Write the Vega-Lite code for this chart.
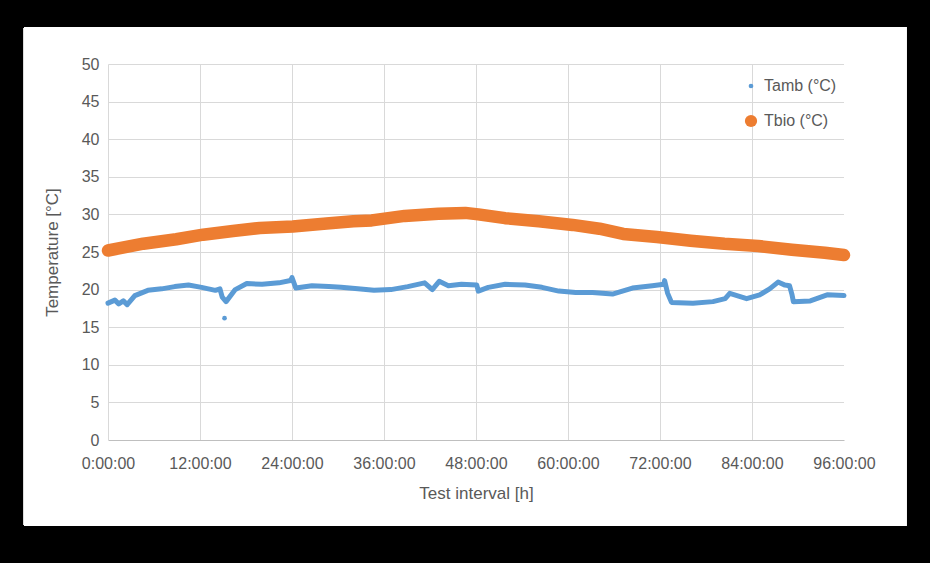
{
  "$schema": "https://vega.github.io/schema/vega-lite/v6.json",
  "width": 736,
  "height": 376,
  "autosize": {"type": "none"},
  "padding": {"left": 108, "top": 64, "right": 86, "bottom": 123},
  "background": "#000000",
  "config": {
    "view": {"fill": "#ffffff", "stroke": null},
    "font": "Liberation Sans",
    "axis": {"labelColor": "#595959", "titleColor": "#595959", "labelFontSize": 16, "titleFontSize": 17, "titleFontWeight": "normal", "gridColor": "#d9d9d9", "gridWidth": 1, "gridOpacity": 1, "labelOverlap": false}
  },
  "datasets": {
    "temps": [
      {"t": 0, "series": "Tamb (°C)", "temp": 18.2, "isolated": 0},
      {"t": 0.9, "series": "Tamb (°C)", "temp": 18.6, "isolated": 0},
      {"t": 1.4, "series": "Tamb (°C)", "temp": 18.1, "isolated": 0},
      {"t": 2.0, "series": "Tamb (°C)", "temp": 18.5, "isolated": 0},
      {"t": 2.5, "series": "Tamb (°C)", "temp": 18.0, "isolated": 0},
      {"t": 3.5, "series": "Tamb (°C)", "temp": 19.2, "isolated": 0},
      {"t": 5.2, "series": "Tamb (°C)", "temp": 19.9, "isolated": 0},
      {"t": 7.0, "series": "Tamb (°C)", "temp": 20.1, "isolated": 0},
      {"t": 8.7, "series": "Tamb (°C)", "temp": 20.4, "isolated": 0},
      {"t": 10.5, "series": "Tamb (°C)", "temp": 20.6, "isolated": 0},
      {"t": 12.2, "series": "Tamb (°C)", "temp": 20.3, "isolated": 0},
      {"t": 14.0, "series": "Tamb (°C)", "temp": 19.9, "isolated": 0},
      {"t": 14.6, "series": "Tamb (°C)", "temp": 20.1, "isolated": 0},
      {"t": 14.9, "series": "Tamb (°C)", "temp": 19.0, "isolated": 0},
      {"t": 15.4, "series": "Tamb (°C)", "temp": 18.4, "isolated": 0},
      {"t": 15.2, "series": "Tamb (°C)", "temp": 16.2, "isolated": 1},
      {"t": 16.6, "series": "Tamb (°C)", "temp": 20.0, "isolated": 0},
      {"t": 18.1, "series": "Tamb (°C)", "temp": 20.8, "isolated": 0},
      {"t": 20.1, "series": "Tamb (°C)", "temp": 20.7, "isolated": 0},
      {"t": 22.3, "series": "Tamb (°C)", "temp": 20.9, "isolated": 0},
      {"t": 23.8, "series": "Tamb (°C)", "temp": 21.2, "isolated": 0},
      {"t": 24.0, "series": "Tamb (°C)", "temp": 21.6, "isolated": 0},
      {"t": 24.5, "series": "Tamb (°C)", "temp": 20.2, "isolated": 0},
      {"t": 26.6, "series": "Tamb (°C)", "temp": 20.5, "isolated": 0},
      {"t": 28.8, "series": "Tamb (°C)", "temp": 20.4, "isolated": 0},
      {"t": 30.4, "series": "Tamb (°C)", "temp": 20.3, "isolated": 0},
      {"t": 32.6, "series": "Tamb (°C)", "temp": 20.1, "isolated": 0},
      {"t": 34.7, "series": "Tamb (°C)", "temp": 19.9, "isolated": 0},
      {"t": 36.9, "series": "Tamb (°C)", "temp": 20.0, "isolated": 0},
      {"t": 39.1, "series": "Tamb (°C)", "temp": 20.4, "isolated": 0},
      {"t": 41.3, "series": "Tamb (°C)", "temp": 20.9, "isolated": 0},
      {"t": 42.3, "series": "Tamb (°C)", "temp": 20.0, "isolated": 0},
      {"t": 43.2, "series": "Tamb (°C)", "temp": 21.1, "isolated": 0},
      {"t": 44.4, "series": "Tamb (°C)", "temp": 20.5, "isolated": 0},
      {"t": 46.1, "series": "Tamb (°C)", "temp": 20.7, "isolated": 0},
      {"t": 48.1, "series": "Tamb (°C)", "temp": 20.6, "isolated": 0},
      {"t": 48.3, "series": "Tamb (°C)", "temp": 19.8, "isolated": 0},
      {"t": 49.6, "series": "Tamb (°C)", "temp": 20.3, "isolated": 0},
      {"t": 51.8, "series": "Tamb (°C)", "temp": 20.7, "isolated": 0},
      {"t": 54.4, "series": "Tamb (°C)", "temp": 20.6, "isolated": 0},
      {"t": 56.6, "series": "Tamb (°C)", "temp": 20.3, "isolated": 0},
      {"t": 58.8, "series": "Tamb (°C)", "temp": 19.8, "isolated": 0},
      {"t": 61.0, "series": "Tamb (°C)", "temp": 19.6, "isolated": 0},
      {"t": 63.2, "series": "Tamb (°C)", "temp": 19.6, "isolated": 0},
      {"t": 65.8, "series": "Tamb (°C)", "temp": 19.4, "isolated": 0},
      {"t": 68.4, "series": "Tamb (°C)", "temp": 20.2, "isolated": 0},
      {"t": 71.0, "series": "Tamb (°C)", "temp": 20.5, "isolated": 0},
      {"t": 72.5, "series": "Tamb (°C)", "temp": 20.7, "isolated": 0},
      {"t": 72.6, "series": "Tamb (°C)", "temp": 21.2, "isolated": 0},
      {"t": 73.0, "series": "Tamb (°C)", "temp": 19.5, "isolated": 0},
      {"t": 73.5, "series": "Tamb (°C)", "temp": 18.3, "isolated": 0},
      {"t": 76.3, "series": "Tamb (°C)", "temp": 18.2, "isolated": 0},
      {"t": 78.9, "series": "Tamb (°C)", "temp": 18.4, "isolated": 0},
      {"t": 80.5, "series": "Tamb (°C)", "temp": 18.8, "isolated": 0},
      {"t": 81.1, "series": "Tamb (°C)", "temp": 19.5, "isolated": 0},
      {"t": 83.3, "series": "Tamb (°C)", "temp": 18.8, "isolated": 0},
      {"t": 85.0, "series": "Tamb (°C)", "temp": 19.3, "isolated": 0},
      {"t": 86.3, "series": "Tamb (°C)", "temp": 20.1, "isolated": 0},
      {"t": 87.4, "series": "Tamb (°C)", "temp": 21.0, "isolated": 0},
      {"t": 88.3, "series": "Tamb (°C)", "temp": 20.6, "isolated": 0},
      {"t": 88.9, "series": "Tamb (°C)", "temp": 20.5, "isolated": 0},
      {"t": 89.2, "series": "Tamb (°C)", "temp": 19.4, "isolated": 0},
      {"t": 89.4, "series": "Tamb (°C)", "temp": 18.4, "isolated": 0},
      {"t": 91.6, "series": "Tamb (°C)", "temp": 18.5, "isolated": 0},
      {"t": 93.8, "series": "Tamb (°C)", "temp": 19.3, "isolated": 0},
      {"t": 96.0, "series": "Tamb (°C)", "temp": 19.2, "isolated": 0},
      {"t": 0, "series": "Tbio (°C)", "temp": 25.2, "isolated": 0},
      {"t": 4.6, "series": "Tbio (°C)", "temp": 26.1, "isolated": 0},
      {"t": 8.9, "series": "Tbio (°C)", "temp": 26.7, "isolated": 0},
      {"t": 12.4, "series": "Tbio (°C)", "temp": 27.3, "isolated": 0},
      {"t": 16.3, "series": "Tbio (°C)", "temp": 27.8, "isolated": 0},
      {"t": 19.8, "series": "Tbio (°C)", "temp": 28.2, "isolated": 0},
      {"t": 24.1, "series": "Tbio (°C)", "temp": 28.4, "isolated": 0},
      {"t": 28.5, "series": "Tbio (°C)", "temp": 28.8, "isolated": 0},
      {"t": 32.0, "series": "Tbio (°C)", "temp": 29.1, "isolated": 0},
      {"t": 34.4, "series": "Tbio (°C)", "temp": 29.2, "isolated": 0},
      {"t": 38.7, "series": "Tbio (°C)", "temp": 29.8, "isolated": 0},
      {"t": 43.1, "series": "Tbio (°C)", "temp": 30.1, "isolated": 0},
      {"t": 46.6, "series": "Tbio (°C)", "temp": 30.2, "isolated": 0},
      {"t": 48.3, "series": "Tbio (°C)", "temp": 30.0, "isolated": 0},
      {"t": 51.8, "series": "Tbio (°C)", "temp": 29.5, "isolated": 0},
      {"t": 56.2, "series": "Tbio (°C)", "temp": 29.1, "isolated": 0},
      {"t": 60.6, "series": "Tbio (°C)", "temp": 28.6, "isolated": 0},
      {"t": 64.1, "series": "Tbio (°C)", "temp": 28.1, "isolated": 0},
      {"t": 67.2, "series": "Tbio (°C)", "temp": 27.4, "isolated": 0},
      {"t": 71.6, "series": "Tbio (°C)", "temp": 27.0, "isolated": 0},
      {"t": 76.0, "series": "Tbio (°C)", "temp": 26.5, "isolated": 0},
      {"t": 80.4, "series": "Tbio (°C)", "temp": 26.1, "isolated": 0},
      {"t": 84.8, "series": "Tbio (°C)", "temp": 25.8, "isolated": 0},
      {"t": 89.2, "series": "Tbio (°C)", "temp": 25.3, "isolated": 0},
      {"t": 93.5, "series": "Tbio (°C)", "temp": 24.9, "isolated": 0},
      {"t": 96.0, "series": "Tbio (°C)", "temp": 24.6, "isolated": 0}
    ]
  },
  "resolve": {"axis": {"x": "independent", "y": "independent"}},
  "layer": [
    {
      "data": {"name": "temps"},
      "mark": {"type": "rect", "color": "#ffffff"},
      "encoding": {
        "x": {"datum": -10.96, "type": "quantitative", "scale": {"domain": [0, 96], "nice": false, "zero": false},
          "axis": {"orient": "bottom", "grid": true, "labels": false, "ticks": false, "domain": false, "title": null, "values": [0, 12, 24, 36, 48, 60, 72, 84, 96], "zindex": 0}},
        "x2": {"datum": 104.1},
        "y": {"datum": -11.4, "type": "quantitative", "scale": {"domain": [0, 50], "nice": false},
          "axis": {"orient": "left", "grid": true, "labels": false, "ticks": false, "domain": false, "title": null, "values": [0, 5, 10, 15, 20, 25, 30, 35, 40, 45, 50], "zindex": 0}},
        "y2": {"datum": 0}
      }
    },
    {
      "layer": [
        {
          "data": {"name": "temps"},
          "mark": {"type": "rect", "color": "#ffffff"},
          "encoding": {
            "x": {"datum": -10.96, "type": "quantitative", "scale": {"domain": [0, 96], "nice": false, "zero": false}, "axis": null},
            "x2": {"datum": 0},
            "y": {"datum": -11.4, "type": "quantitative", "scale": {"domain": [0, 50], "nice": false}, "axis": null},
            "y2": {"datum": 54.9}
          }
        },
        {
          "data": {"name": "temps"},
          "mark": {"type": "rect", "color": "#ffffff"},
          "encoding": {
            "x": {"datum": 96, "type": "quantitative", "scale": {"domain": [0, 96], "nice": false, "zero": false}, "axis": null},
            "x2": {"datum": 104.1},
            "y": {"datum": -11.4, "type": "quantitative", "scale": {"domain": [0, 50], "nice": false}, "axis": null},
            "y2": {"datum": 54.9}
          }
        },
        {
          "data": {"name": "temps"},
          "mark": {"type": "rect", "color": "#ffffff"},
          "encoding": {
            "x": {"datum": -10.96, "type": "quantitative", "scale": {"domain": [0, 96], "nice": false, "zero": false}, "axis": null},
            "x2": {"datum": 104.1},
            "y": {"datum": 50, "type": "quantitative", "scale": {"domain": [0, 50], "nice": false}, "axis": null},
            "y2": {"datum": 54.9}
          }
        }
      ]
    },
    {
      "encoding": {
        "x": {"field": "t", "type": "quantitative", "scale": {"domain": [0, 96], "nice": false, "zero": false},
          "axis": {"orient": "bottom", "grid": false, "ticks": false, "domain": true, "domainColor": "#bfbfbf", "domainWidth": 1, "values": [0, 12, 24, 36, 48, 60, 72, 84, 96], "labelExpr": "datum.value + ':00:00'", "labelPadding": 15, "labelFlush": false, "labelOverlap": false, "title": "Test interval [h]", "titlePadding": 14, "zindex": 1}},
        "y": {"field": "temp", "type": "quantitative", "scale": {"domain": [0, 50], "nice": false},
          "axis": {"orient": "left", "grid": false, "ticks": false, "domain": false, "values": [0, 5, 10, 15, 20, 25, 30, 35, 40, 45, 50], "tickCount": 11, "labelPadding": 9, "labelOverlap": false, "labelBound": false, "title": "Temperature [°C]", "titlePadding": 20, "zindex": 1}},
        "color": {"field": "series", "type": "nominal",
          "scale": {"domain": ["Tamb (°C)", "Tbio (°C)"], "range": ["#5b9bd5", "#ed7d31"]},
          "legend": {"title": null, "orient": "none", "legendX": 635, "legendY": 14, "symbolType": "circle", "symbolSize": 140, "labelFontSize": 16, "labelColor": "#595959", "labelOffset": 5, "rowPadding": 19,
            "encode": {"symbols": {"update": {"fill": {"scale": "color", "field": "value"}, "stroke": {"value": "transparent"}, "strokeWidth": {"value": 0}, "opacity": {"value": 1}, "size": {"signal": "datum.value === 'Tbio (°C)' ? 150 : 22"}}}}}}
      },
      "layer": [
        {
          "data": {"name": "temps"},
          "transform": [{"filter": "datum.series === 'Tamb (°C)' && datum.isolated === 0"}],
          "mark": {"type": "line", "strokeWidth": 5, "strokeCap": "round", "strokeJoin": "round"}
        },
        {
          "data": {"name": "temps"},
          "transform": [{"filter": "datum.series === 'Tamb (°C)' && datum.isolated === 1"}],
          "mark": {"type": "point", "filled": true, "size": 22, "opacity": 1}
        },
        {
          "data": {"name": "temps"},
          "transform": [{"filter": "datum.series === 'Tbio (°C)'"}],
          "mark": {"type": "line", "strokeWidth": 12.5, "strokeCap": "round", "strokeJoin": "round"}
        }
      ]
    }
  ]
}
